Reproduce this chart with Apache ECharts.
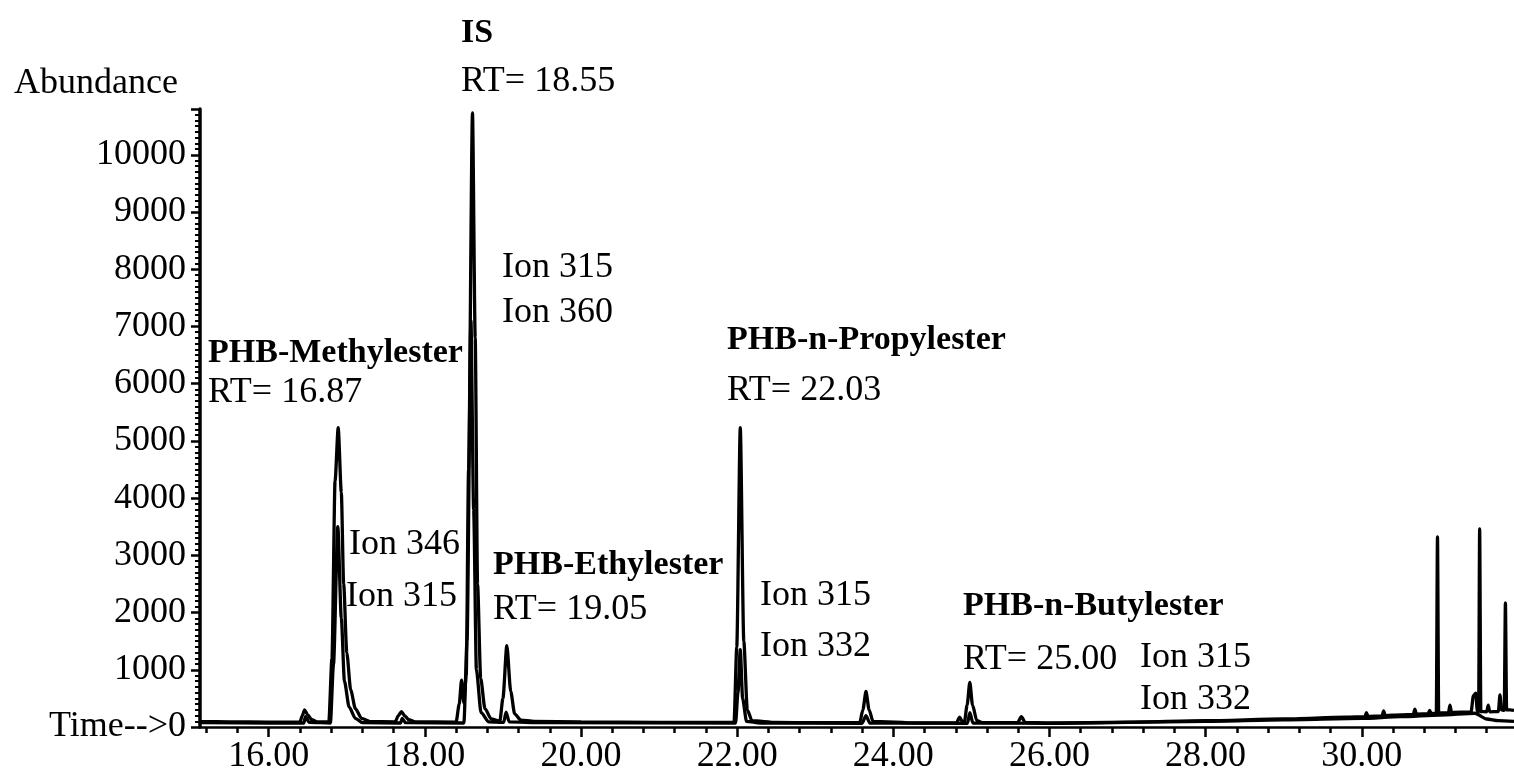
<!DOCTYPE html>
<html>
<head>
<meta charset="utf-8">
<script src="https://cdn.jsdelivr.net/npm/echarts@6/dist/echarts.min.js"></script>
<style>
html,body{margin:0;padding:0;background:#fff;}
#chart{width:1514px;height:778px;}
</style>
</head>
<body>
<div id="chart"></div>
<script>
// ---- Data (retention time in min, abundance) ----
// Main ion trace (Ion 315)
const ion315 = [
  [15.12, 95], [15.5, 90], [16.0, 85], [16.40, 85], [16.43, 200], [16.46, 300], [16.50, 210], [16.55, 130], [16.62, 90],
  [16.77, 90], [16.81, 1200], [16.85, 4300], [16.89, 5230], [16.93, 4100], [16.96, 2500], [17.00, 1300], [17.05, 650], [17.11, 320], [17.19, 150], [17.30, 95],
  [17.62, 90], [17.66, 200], [17.70, 270], [17.74, 200], [17.79, 130], [17.88, 90],
  [18.40, 85], [18.44, 400], [18.47, 820], [18.50, 420], [18.53, 900], [18.56, 4500], [18.61, 10730], [18.645, 6800], [18.675, 2500], [18.715, 850], [18.77, 320], [18.85, 140],
  [18.96, 100], [19.00, 500], [19.05, 1420], [19.10, 620], [19.15, 230], [19.23, 120], [19.40, 100],
  [20.0, 90], [21.0, 80], [21.96, 80], [21.995, 1400], [22.04, 5230], [22.085, 1500], [22.13, 300], [22.19, 110], [22.5, 80],
  [23.0, 75], [23.57, 75], [23.61, 300], [23.65, 620], [23.69, 300], [23.74, 100], [24.3, 70],
  [24.81, 75], [24.85, 170], [24.89, 80], [24.91, 80], [24.945, 380], [24.98, 780], [25.015, 380], [25.07, 110], [25.15, 75],
  [25.59, 75], [25.64, 180], [25.69, 80], [26.0, 70], [27.0, 85], [28.0, 110], [29.0, 140], [29.8, 170],
  [30.04, 180], [30.06, 250], [30.08, 185], [30.26, 195], [30.28, 280], [30.30, 200], [30.5, 210],
  [30.66, 220], [30.68, 310], [30.70, 225], [30.85, 230], [30.87, 290], [30.89, 235],
  [30.955, 240], [30.97, 3320], [30.985, 245], [31.11, 250], [31.13, 380], [31.15, 255],
  [31.40, 260], [31.43, 550], [31.46, 590], [31.48, 280], [31.497, 270], [31.51, 3460], [31.525, 270],
  [31.60, 265], [31.62, 380], [31.64, 265], [31.75, 270], [31.77, 560], [31.79, 300],
  [31.825, 290], [31.84, 2170], [31.855, 300], [31.90, 300], [31.95, 290]
];
// Qualifier ion trace (Ion 346 / 360 / 332)
const ionQualifier = [
  [15.12, 75], [16.0, 70], [16.45, 70], [16.47, 180], [16.52, 80],
  [16.79, 70], [16.83, 1100], [16.885, 3500], [16.93, 1900], [16.97, 800], [17.03, 350], [17.11, 150], [17.20, 75],
  [17.69, 70], [17.71, 150], [17.75, 75],
  [18.50, 70], [18.54, 1500], [18.59, 7100], [18.625, 3800], [18.66, 1000], [18.72, 250], [18.82, 90],
  [19.01, 80], [19.04, 260], [19.08, 90], [19.5, 75],
  [21.98, 70], [22.01, 600], [22.04, 1350], [22.07, 500], [22.12, 100], [22.3, 70],
  [23.60, 65], [23.65, 200], [23.70, 70], [24.95, 65], [24.98, 250], [25.02, 70],
  [26.0, 65], [28.0, 100], [29.0, 125], [30.0, 150], [30.5, 180], [31.0, 210], [31.45, 240],
  [31.60, 140], [31.75, 110], [31.95, 100]
];
// Axis tick labels
const xMajorTicks = [16, 18, 20, 22, 24, 26, 28, 30];
const yLabelTicks = [0, 1000, 2000, 3000, 4000, 5000, 6000, 7000, 8000, 9000, 10000];
const xMin = 15.12, xMax = 31.95, yMax = 10800;

const xMinorTicks = [];
for (let v = 15.2; v <= xMax + 1e-9; v += 0.4) xMinorTicks.push(Math.round(v * 100) / 100);

const serif = '"Liberation Serif", "Times New Roman", serif';
const reg = '36px ' + serif;
const bold = 'bold 34px ' + serif;

// Annotation texts
const annotations = [
  ['Abundance', 14, 84, reg],
  ['IS', 461, 33, bold],
  ['RT= 18.55', 461, 82, reg],
  ['Ion 315', 502, 268, reg],
  ['Ion 360', 502, 313, reg],
  ['PHB-Methylester', 208, 353, bold],
  ['RT= 16.87', 208, 393, reg],
  ['Ion 346', 349, 545, reg],
  ['Ion 315', 346, 597, reg],
  ['PHB-Ethylester', 493, 565, bold],
  ['RT= 19.05', 493, 610, reg],
  ['PHB-n-Propylester', 727, 340, bold],
  ['RT= 22.03', 727, 391, reg],
  ['Ion 315', 760, 596, reg],
  ['Ion 332', 760, 647, reg],
  ['PHB-n-Butylester', 963, 606, bold],
  ['RT= 25.00', 963, 660, reg],
  ['Ion 315', 1140, 658, reg],
  ['Ion 332', 1140, 700, reg]
];

const chart = echarts.init(document.getElementById('chart'));
const lineCommon = {
  type: 'line', showSymbol: false, symbol: 'none', xAxisIndex: 0, yAxisIndex: 0,
  lineStyle: { color: '#000', width: 3.3 }, smooth: 0.25, smoothMonotone: 'x',
  clip: true, animation: false, z: 3
};
chart.setOption({
  animation: false,
  backgroundColor: '#fff',
  grid: { left: 200, right: 0, top: 109, bottom: 51, containLabel: false },
  xAxis: [{
    type: 'value', min: xMin, max: xMax, position: 'bottom',
    axisLine: { show: true, onZero: false, lineStyle: { color: '#000', width: 2.5 } },
    axisTick: { show: true, customValues: xMajorTicks, length: 10, lineStyle: { color: '#000', width: 2.5 } },
    axisLabel: { customValues: xMajorTicks, formatter: v => v.toFixed(2), color: '#000', fontFamily: serif, fontSize: 36, margin: 12 },
    splitLine: { show: false }
  }, {
    type: 'value', min: xMin, max: xMax, position: 'bottom', gridIndex: 0,
    axisLine: { show: false, onZero: false },
    axisTick: { show: true, customValues: xMinorTicks, length: 6, lineStyle: { color: '#000', width: 2.5 } },
    axisLabel: { show: false },
    splitLine: { show: false }
  }],
  yAxis: [{
    type: 'value', min: 0, max: yMax, interval: 1000, position: 'left',
    axisLine: { show: true, lineStyle: { color: '#000', width: 3.5 } },
    axisTick: { show: true, length: 9, lineStyle: { color: '#000', width: 2.5 } },
    minorTick: { show: true, splitNumber: 10, length: 5, lineStyle: { color: '#000', width: 2 } },
    axisLabel: {
      customValues: yLabelTicks, color: '#000', fontFamily: serif, fontSize: 36, margin: 14,
      formatter: v => (v === 0 ? 'Time-->0' : String(v))
    },
    splitLine: { show: false }, minorSplitLine: { show: false }
  }],
  series: [
    Object.assign({ name: 'Ion 315', data: ion315 }, lineCommon),
    Object.assign({ name: 'Qualifier ion', data: ionQualifier }, lineCommon)
  ],
  graphic: annotations.map(a => ({
    type: 'text', x: a[1], y: a[2], z: 10,
    style: { text: a[0], font: a[3], fill: '#000', align: 'left', verticalAlign: 'middle' }
  }))
});
</script>
</body>
</html>
